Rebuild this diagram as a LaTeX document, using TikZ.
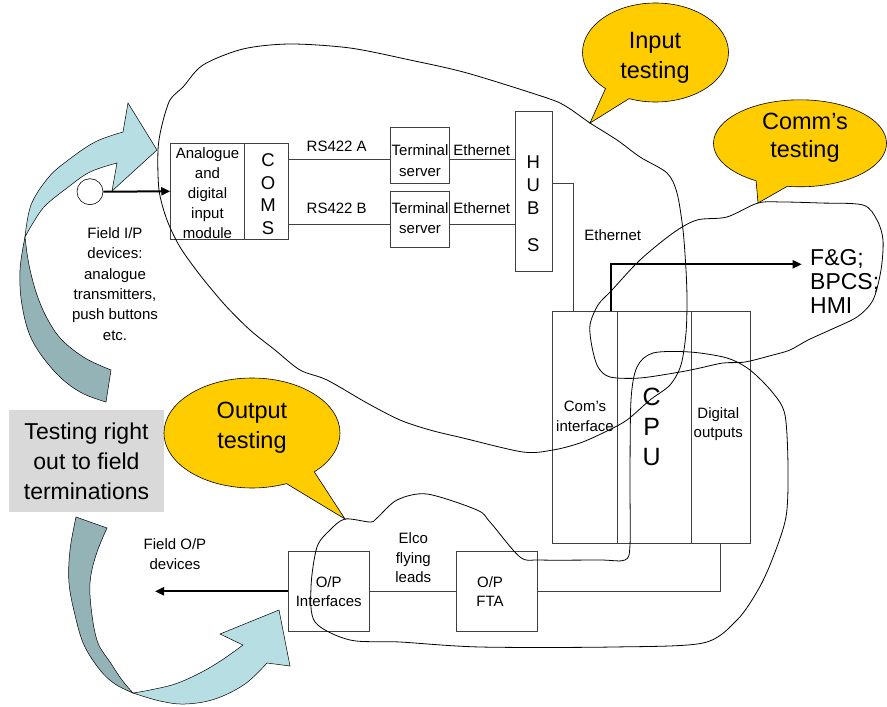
\documentclass[tikz,border=0pt]{standalone}
\usepackage{fontspec}
\setmainfont{Liberation Sans}
\usetikzlibrary{arrows.meta,calc,shapes.callouts,shapes.geometric}
\definecolor{cyel}{RGB}{255,204,0}
\definecolor{arlight}{RGB}{183,222,227}
\definecolor{ardark}{RGB}{147,179,183}
\definecolor{boxgray}{RGB}{217,217,217}
\definecolor{edgegray}{RGB}{64,64,64}
\begin{document}
\begin{tikzpicture}[x=1pt,y=-1pt,
  box/.style={draw=edgegray, line width=0.9pt, inner sep=0pt},
  lbl/.style={font=\fontsize{15}{20}\selectfont, align=center, inner sep=0pt},
  bigtxt/.style={font=\fontsize{18.5}{22.7}\selectfont, align=center, inner sep=0pt},
  hugetxt/.style={font=\fontsize{23.5}{30}\selectfont, align=center, inner sep=0pt},
  wire/.style={draw=edgegray, line width=0.9pt},
  fat/.style={line width=2pt, -{Triangle[length=9pt,width=8pt]}},
  freeloop/.style={draw=black, line width=0.8pt},
  bubble/.style={ellipse callout, draw=black, line width=0.6pt, fill=cyel, callout pointer arc=22, inner sep=0pt},
  ribbon/.style={draw=black, line width=0.5pt}]

\path[use as bounding box, fill=white] (0,0) rectangle (887,707);

% curved ribbon arrows
\filldraw[ribbon, fill=ardark] plot[smooth, tension=0.6] coordinates {(25,237) (20,270) (22,305) (32,340) (55,372) (80,392) (106,402)} -- (111,370) -- plot[smooth, tension=0.6] coordinates {(111,370) (85,358) (62,340) (48,320) (37,295) (29,265) (25,237)} -- cycle;
\filldraw[ribbon, fill=arlight] plot[smooth, tension=0.6] coordinates {(25,237) (31,205) (48,178) (67,161) (95,142) (123,132)} -- (128,103) -- (157,150) -- (112,191) -- (117,163) -- plot[smooth, tension=0.6] coordinates {(117,163) (90,172) (67,188) (45,206) (33,223) (25,237)} -- cycle;

\filldraw[ribbon, fill=ardark] (76,517) -- (107,528) -- plot[smooth, tension=0.6] coordinates {(107,528) (96,555) (90,583) (92,615) (98,643) (110,662) (122,680) (133,693)} -- plot[smooth, tension=0.6] coordinates {(133,693) (115,684) (100,670) (84,645) (75,615) (69,583) (70,550) (76,517)} -- cycle;
\filldraw[ribbon, fill=arlight] plot[smooth, tension=0.6] coordinates {(133,693) (160,701) (185,704) (215,699) (245,684) (267,663)} -- (290,666) -- (279,610) -- (220,634) -- plot[smooth, tension=0.6] coordinates {(243,645) (222,660) (200,673) (175,684) (150,690) (133,693)} -- cycle;

% gray statement box
\node[fill=boxgray, minimum width=155, minimum height=101.7, inner sep=0pt, align=center, font=\fontsize{23}{30}\selectfont] (stmt) at (86.5,460.8) {Testing right\\out to field\\terminations};

% field input device
\node[draw, fill=white, circle, minimum size=26, inner sep=0pt, line width=0.6pt] (fip) at (90,191.7) {};
\node[lbl, font=\fontsize{15}{20.3}\selectfont] (fiptxt) at (115,284) {Field I/P\\devices:\\analogue\\transmitters,\\push buttons\\etc.};

% boxes
\node[box, minimum width=73.6, minimum height=96] (am) at (207.5,191.3) {};
\node[lbl] (amtxt) at (207.5,193) {Analogue\\and\\digital\\input\\module};
\node[box, minimum width=44, minimum height=96] (coms) at (266.3,191.3) {};
\node[bigtxt] (comstxt) at (268,194) {C\\O\\M\\S};

\node[box, minimum width=58.6, minimum height=55.6] (ts1) at (420,155.5) {};
\node[lbl, font=\fontsize{15}{21}\selectfont] (ts1txt) at (420,160.5) {Terminal\\server};
\node[box, minimum width=58.6, minimum height=55.6] (ts2) at (420,219.5) {};
\node[lbl, font=\fontsize{15}{20}\selectfont] (ts2txt) at (420,218.5) {Terminal\\server};

\node[box, minimum width=36.6, minimum height=160] (hubs) at (534,191.7) {};
\node[bigtxt, font=\fontsize{18.5}{23.3}\selectfont] (hubstxt) at (533.3,203.5) {H\\U\\B\\[13.4pt]S};

\node[box, minimum width=65.2, minimum height=232.3] (ci) at (585.1,427.2) {};
\node[box, minimum width=73.8, minimum height=232.3] (cpu) at (654.6,427.2) {};
\node[box, minimum width=58.5, minimum height=232.3] (dout) at (720.75,427.2) {};
\node[lbl] (citxt) at (585,416) {Com’s\\interface};
\node[lbl, font=\fontsize{25}{30}\selectfont] (cputxt) at (651.7,427) {C\\P\\U};
\node[lbl, font=\fontsize{15}{19}\selectfont] (douttxt) at (718.3,424) {Digital\\outputs};

\node[box, minimum width=80.7, minimum height=80.7] (opi) at (328.7,591.3) {};
\node[lbl, font=\fontsize{15}{19.3}\selectfont] (opitxt) at (328.7,591.3) {O/P\\Interfaces};
\node[box, minimum width=81, minimum height=80.7] (fta) at (497.2,591.3) {};
\node[lbl, font=\fontsize{15}{19.3}\selectfont] (ftatxt) at (490,591.3) {O/P\\FTA};

% free labels
\node[lbl] (rsa) at (336.7,146.7) {RS422 A};
\node[lbl] (rsb) at (336.7,208.3) {RS422 B};
\node[lbl] (eta) at (481.7,150) {Ethernet};
\node[lbl] (etb) at (481.7,208.3) {Ethernet};
\node[lbl] (etc) at (612.7,235) {Ethernet};
\node[lbl, font=\fontsize{15}{19.5}\selectfont] (elco) at (413.3,558) {Elco\\flying\\leads};
\node[lbl] (foptxt) at (175,554.3) {Field O/P\\devices};
\node[hugetxt, font=\fontsize{23}{24}\selectfont, align=left, anchor=west] (fg) at (810,281) {F\&G;\\BPCS;\\HMI};

\coordinate (fgtip) at (801.7,264.3);
\coordinate (fop) at (155,591.3);

% connectors
\draw[fat] (fip.east) -- (am.west);
\draw[wire] (coms.east |- 0,159.3) -- (ts1.west |- 0,159.3);
\draw[wire] (coms.east |- 0,224) -- (ts2.west |- 0,224);
\draw[wire] (ts1.east |- 0,159.3) -- (hubs.west |- 0,159.3);
\draw[wire] (ts2.east |- 0,224) -- (hubs.west |- 0,224);
\draw[wire] (hubs.east |- 0,183.3) -| (ci.north -| 573.3,0);
\draw[fat] (ci.north -| 610.7,0) |- (fgtip);
\draw[wire] (dout.south) |- (fta.east);
\draw[wire] (opi.east) -- (fta.west);
\draw[fat] (opi.west) -- (fop);

% hand drawn test boundaries
\draw[freeloop] plot[smooth cycle, tension=0.5] coordinates {(590,123) (617,140) (640,157) (667,173) (677,193) (683,230) (686,270) (687,300) (686,333) (681,365) (670,385) (650,400) (627,420) (605,432) (580,443) (553,450) (523,452) (463,438) (430,430) (400,420) (367,403) (327,380) (300,370) (275,350) (250,330) (225,305) (200,275) (180,247) (167,220) (159,190) (158,150) (162,125) (170,100) (183,87) (203,65) (243,49) (290,44) (350,48) (410,60) (467,73) (547,98) (567,107)};

\draw[freeloop] plot[smooth cycle, tension=0.5] coordinates {(758,203) (783,202) (820,203) (863,205) (877,220) (883,240) (881,270) (873,300) (857,317) (830,330) (808,340) (790,350) (773,355) (745,362) (723,363) (700,368) (680,372) (640,378) (610,377) (598,367) (592,347) (590,325) (598,305) (612,290) (640,260) (673,233) (697,220) (727,217)};

\draw[freeloop] plot[smooth cycle, tension=0.5] coordinates {(345,519) (370,522) (377,518) (397,500) (427,494) (477,510) (490,522) (520,557) (540,560) (600,560) (625,560) (630,545) (630,480) (631,400) (637,367) (653,353) (690,352) (727,358) (750,370) (773,393) (785,415) (788,467) (786,517) (772,560) (758,590) (737,620) (703,643) (613,647) (480,647) (400,642) (350,640) (315,622) (311,587) (317,547) (330,530)};

% callouts
\node[bubble, minimum width=146, minimum height=99, callout absolute pointer={(590,123)}] (cin) at (655.5,52.5) {};
\node[hugetxt] (cintxt) at (655,58) {Input\\testing};
\node[bubble, minimum width=173, minimum height=87, callout absolute pointer={(758,203)}] (ccom) at (800,143.3) {};
\node[hugetxt, font=\fontsize{23.5}{28.4}\selectfont] (ccomtxt) at (805,137.5) {Comm’s\\testing};
\node[bubble, minimum width=176, minimum height=110, callout absolute pointer={(345,519)}] (cout) at (252,433) {};
\node[hugetxt] (couttxt) at (252,428) {Output\\testing};

\end{tikzpicture}
\end{document}
